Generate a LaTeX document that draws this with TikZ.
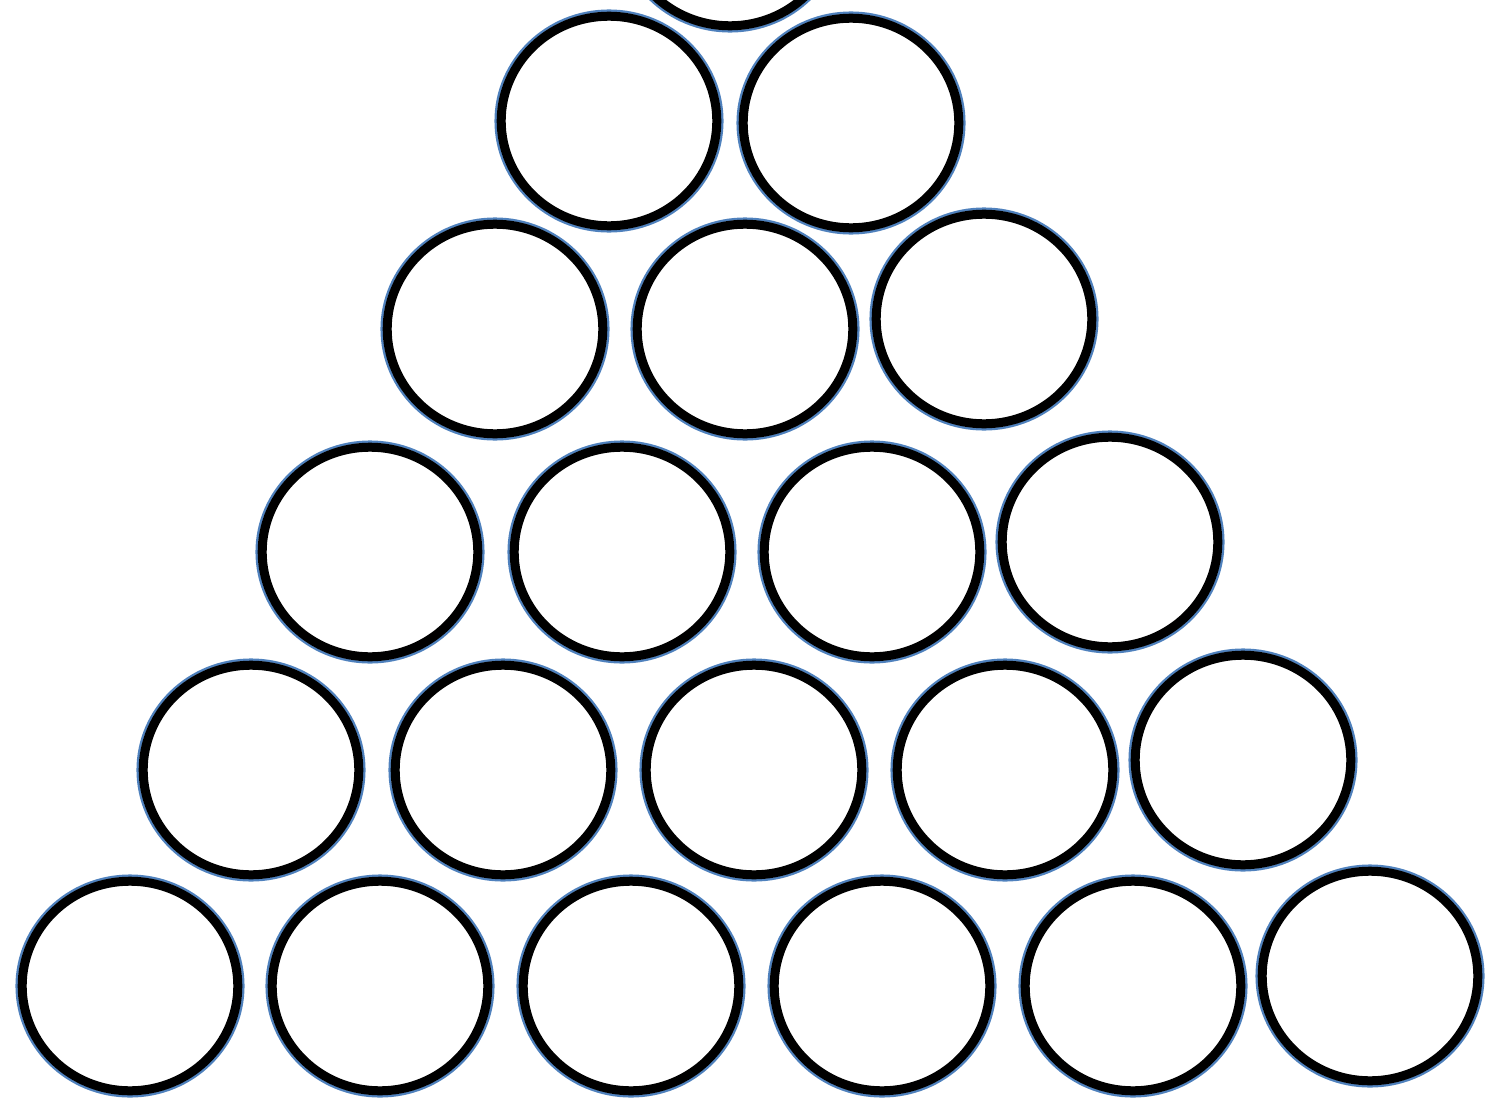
\documentclass[tikz,border=0pt]{standalone}
\usepackage{xcolor}
\definecolor{rimblue}{RGB}{79,129,189}

\begin{document}
\begin{tikzpicture}[
    x=1pt, y=-1pt,
    rim/.style ={draw=rimblue, line width=2.5pt},
    ring/.style={draw=black, line width=9pt},
]
\useasboundingbox (0,0) rectangle (1489,1100);
\clip (0,0) rectangle (1489,1100);
% one tilted stack of rings, centres read row by row
\foreach \cx/\cy in {
    730/-79,
    609/121, 851/123,
    495/329, 745/329, 984/319,
    370/552, 622/552, 872/552, 1110/542,
    251/770, 503/770, 754/770, 1005/770, 1243/760,
    130/986, 380/986, 631/986, 882/986, 1133/986, 1370/976}
{
  \draw[rim]  (\cx,\cy) ellipse [x radius=113.3, y radius=110.3];
  \draw[ring] (\cx,\cy) ellipse [x radius=107.8, y radius=104.8];
}
\end{tikzpicture}
\end{document}
